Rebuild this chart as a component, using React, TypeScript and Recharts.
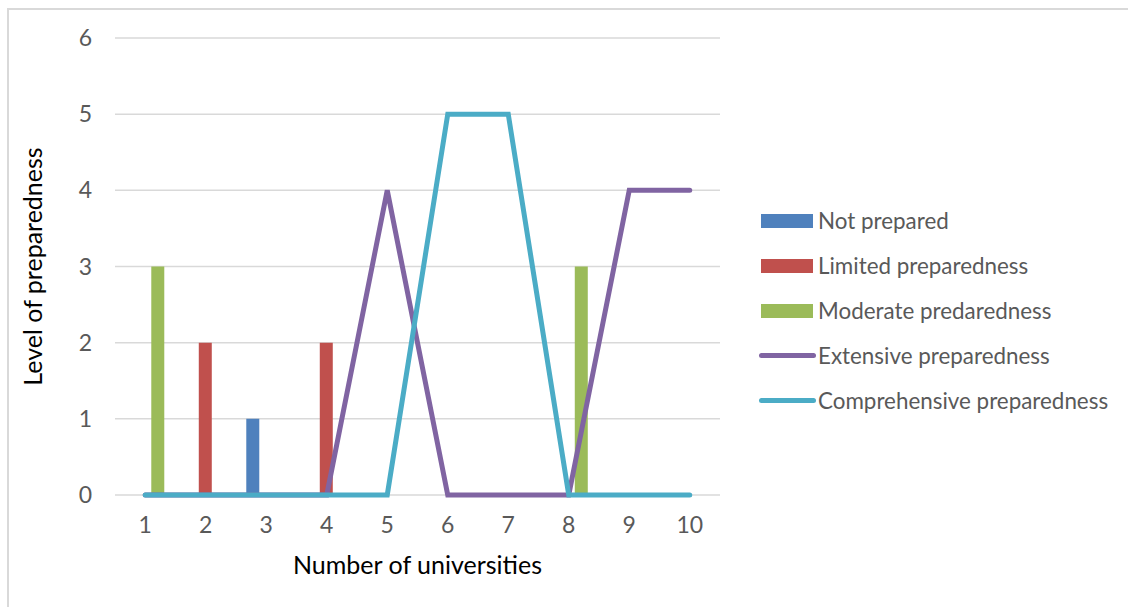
import {
  ComposedChart,
  Bar,
  Line,
  XAxis,
  YAxis,
  CartesianGrid,
} from 'recharts';

const categories = ['1', '2', '3', '4', '5', '6', '7', '8', '9', '10'];
const notPrepared = [0, 0, 1, 0, 0, 0, 0, 0, 0, 0];
const limited = [0, 2, 0, 2, 0, 0, 0, 0, 0, 0];
const moderate = [3, 0, 0, 0, 0, 0, 0, 3, 0, 0];
const extensive = [0, 0, 0, 0, 4, 0, 0, 0, 4, 4];
const comprehensive = [0, 0, 0, 0, 0, 5, 5, 0, 0, 0];
const yTicks = [0, 1, 2, 3, 4, 5, 6];

const series = [
  { key: 'notPrepared', name: 'Not prepared', color: '#4F81BD', kind: 'bar' },
  { key: 'limited', name: 'Limited preparedness', color: '#C0504D', kind: 'bar' },
  { key: 'moderate', name: 'Moderate predaredness', color: '#9BBB59', kind: 'bar' },
  { key: 'extensive', name: 'Extensive preparedness', color: '#8064A2', kind: 'line' },
  { key: 'comprehensive', name: 'Comprehensive preparedness', color: '#4BACC6', kind: 'line' },
];

const data = categories.map((name, i) => ({
  name,
  notPrepared: notPrepared[i],
  limited: limited[i],
  moderate: moderate[i],
  extensive: extensive[i],
  comprehensive: comprehensive[i],
}));

const font = 'Lato, "Open Sans", sans-serif';
const tickStyle = { fill: '#595959', fontSize: 23, fontFamily: font };

function ChartLegend() {
  return (
    <div style={{ position: 'absolute', left: 756, top: 198, fontFamily: font }}>
      {series.map((s) => (
        <div key={s.key} style={{ display: 'flex', alignItems: 'center', height: 45 }}>
          <div style={{ width: 62, display: 'flex', justifyContent: 'center' }}>
            {s.kind === 'bar' ? (
              <div style={{ width: 52, height: 14, background: s.color }} />
            ) : (
              <div style={{ width: 57, height: 5, borderRadius: 3, background: s.color }} />
            )}
          </div>
          <span style={{ fontSize: 22.4, color: '#595959' }}>{s.name}</span>
        </div>
      ))}
    </div>
  );
}

export default function App() {
  return (
    <div
      style={{
        position: 'absolute',
        left: 0,
        top: 0,
        width: 1128,
        height: 607,
        overflow: 'hidden',
        background: '#fff',
      }}
    >
      <div
        style={{
          position: 'absolute',
          left: 7,
          top: 8,
          width: 1200,
          height: 700,
          border: '2px solid #D9D9D9',
        }}
      />
      <ComposedChart
        width={1128}
        height={607}
        data={data}
        margin={{ top: 38, right: 408, bottom: 62, left: 15 }}
        barCategoryGap="17%"
        barGap={0}
        style={{ position: 'absolute', left: 0, top: 0 }}
      >
        <CartesianGrid vertical={false} stroke="#D9D9D9" strokeWidth={1.5} />
        <XAxis
          dataKey="name"
          axisLine={false}
          tickLine={false}
          tickSize={0}
          tickMargin={22}
          height={50}
          tick={tickStyle}
          label={{
            value: 'Number of universities',
            position: 'bottom',
            offset: 11,
            style: { fill: '#000', fontSize: 25, fontFamily: font },
          }}
        />
        <YAxis
          domain={[0, 6]}
          ticks={yTicks}
          axisLine={false}
          tickLine={false}
          tickSize={0}
          tickMargin={23}
          width={100}
          tick={tickStyle}
          label={{
            value: 'Level of preparedness',
            angle: -90,
            position: 'insideLeft',
            offset: 18,
            style: { textAnchor: 'middle', fill: '#000', fontSize: 25, fontFamily: font },
          }}
        />
        {series
          .filter((s) => s.kind === 'bar')
          .map((s) => (
            <Bar key={s.key} dataKey={s.key} name={s.name} fill={s.color} isAnimationActive={false} />
          ))}
        {series
          .filter((s) => s.kind === 'line')
          .map((s) => (
            <Line
              key={s.key}
              type="linear"
              dataKey={s.key}
              name={s.name}
              stroke={s.color}
              strokeWidth={5}
              strokeLinecap="round"
              dot={false}
              activeDot={false}
              isAnimationActive={false}
            />
          ))}
      </ComposedChart>
      <ChartLegend />
    </div>
  );
}
